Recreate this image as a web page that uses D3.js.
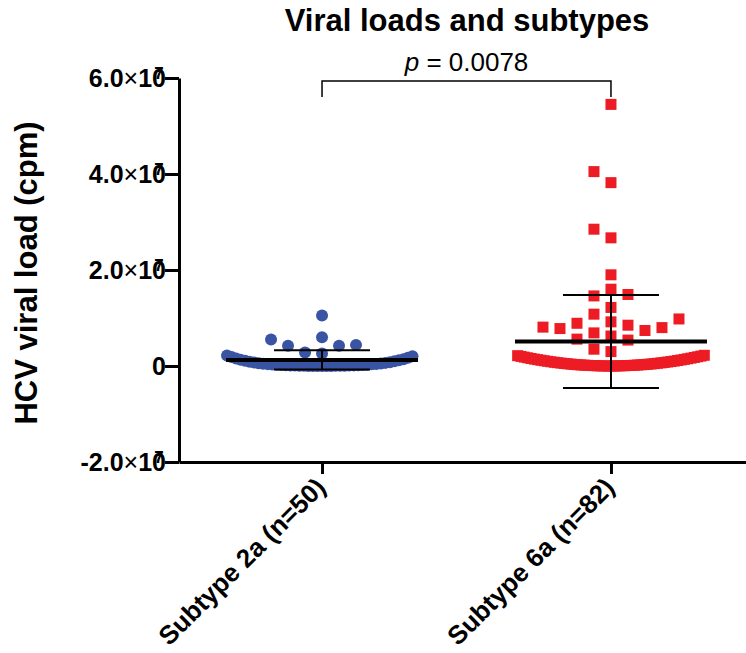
<!DOCTYPE html>
<html>
<head>
<meta charset="utf-8">
<script src="https://cdn.jsdelivr.net/npm/d3@7"></script>
<style>
  body { margin: 0; background: #fff; }
  text { font-family: "Liberation Sans", Arial, sans-serif; fill: #000; }
</style>
</head>
<body>
<div class="chart"></div>
<script>
// values in millions of cpm
var categories = ["Subtype 2a (n=50)", "Subtype 6a (n=82)"];

var subtype2a = [10.5, 6.0, 5.5, 4.4, 4.2, 4.2, 2.8, 2.6,
  0.00, 0.00, 0.01, 0.01, 0.02, 0.02, 0.03, 0.04, 0.05, 0.06, 0.07, 0.08, 0.10, 0.11,
  0.13, 0.15, 0.17, 0.19, 0.22, 0.25, 0.28, 0.31, 0.35, 0.39, 0.43, 0.48, 0.53, 0.59,
  0.65, 0.72, 0.80, 0.88, 0.97, 1.07, 1.18, 1.30, 1.43, 1.57, 1.72, 1.88, 2.04, 2.20];

var subtype6a = [54.5, 40.5, 38.2, 28.5, 26.7, 19.0, 16.0, 14.9, 14.6, 12.2, 10.8, 9.8,
  9.2, 8.9, 8.5, 8.1, 8.0, 7.8, 7.4, 6.9, 6.25, 5.6, 5.4, 3.5, 3.0,
  0.00, 0.00, 0.01, 0.01, 0.02, 0.03, 0.04, 0.05, 0.06, 0.07, 0.09, 0.10, 0.12, 0.14,
  0.16, 0.18, 0.20, 0.22, 0.25, 0.27, 0.30, 0.33, 0.36, 0.39, 0.42, 0.46, 0.49, 0.53,
  0.57, 0.61, 0.65, 0.69, 0.74, 0.78, 0.83, 0.88, 0.93, 0.98, 1.03, 1.09, 1.14, 1.20,
  1.26, 1.32, 1.38, 1.44, 1.51, 1.57, 1.64, 1.71, 1.78, 1.85, 1.92, 2.00, 2.07, 2.15, 2.23];

var yTicks = [-20, 0, 20, 40, 60];
var pLabel = "0.0078";

var width = 746,
    height = 653;

var svg = d3.select(".chart").append("svg")
    .attr("width", width)
    .attr("height", height);

var y = d3.scaleLinear().domain([-20, 60]).range([462, 78]);
var x = d3.scalePoint().domain(categories).range([179, 754]).padding(0.495);

var groups = [
  {name: categories[0], values: subtype2a, color: "#3a54a4", shape: "circle"},
  {name: categories[1], values: subtype6a, color: "#ed1c24", shape: "square"}
];

// prism-like scatter: dense rows are squeezed, the rest are swarmed
var rowH = 11.5, hitH = 14, space = 17, halfW = 95;

function swarm(values) {
  var pts = values.map(function(v){ return {v: v, y: y(v)}; })
    .sort(function(a, b){ return a.v - b.v; });
  var placed = [], i = 0;
  while (i < pts.length) {
    var j = i;
    while (j < pts.length && pts[i].y - pts[j].y < rowH) j++;
    var row = pts.slice(i, j);
    if (row.length * space > 2 * halfW) {
      var step = 2 * halfW / row.length;
      row.forEach(function(p, k){
        p.dx = (k % 2 ? -1 : 1) * Math.ceil(k / 2) * step;
        p.packed = true;
        placed.push(p);
      });
    } else {
      row.forEach(function(p){
        p.dx = findSpot(p, placed);
        placed.push(p);
      });
    }
    i = j;
  }
  return pts;
}

function findSpot(p, placed) {
  for (var m = 0; m < 300; m += 0.5) {
    var cands = m === 0 ? [0] : [-m, m];
    for (var c = 0; c < cands.length; c++) {
      var ok = placed.every(function(q){
        var h = q.packed ? rowH : hitH;
        return Math.abs(q.y - p.y) >= h || Math.abs(q.dx - cands[c]) >= space;
      });
      if (ok) return cands[c];
    }
  }
  return 0;
}

// axes
var yAxis = svg.append("g")
    .attr("transform", "translate(179,0)")
    .call(d3.axisLeft(y).tickValues(yTicks).tickSize(14).tickSizeOuter(0).tickFormat(""));
yAxis.selectAll("path, line").attr("stroke", "#000").attr("stroke-width", 3);

var xAxis = svg.append("g")
    .attr("transform", "translate(0,462)")
    .call(d3.axisBottom(x).tickSize(12).tickSizeOuter(0).tickFormat(""));
xAxis.selectAll("path, line").attr("stroke", "#000").attr("stroke-width", 3);

// y tick labels, 6.0x10^7 style
yTicks.forEach(function(t){
  var lab = svg.append("text")
      .attr("text-anchor", "end")
      .attr("font-size", 25)
      .attr("font-weight", "bold")
      .attr("x", 166)
      .attr("y", y(t) + 9);
  if (t === 0) { lab.text("0"); return; }
  lab.append("tspan").text((t / 10).toFixed(1));
  lab.append("tspan").attr("font-weight", "normal").text("\u00d7");
  lab.append("tspan").text("10");
  lab.append("tspan").attr("font-size", 17).attr("dx", -11.7).attr("dy", -8).text("7");
});

// points
groups.forEach(function(g){
  var cx = x(g.name);
  var pts = swarm(g.values);
  var sel = svg.append("g").selectAll(".pt").data(pts).enter();
  if (g.shape === "circle") {
    sel.append("circle")
      .attr("cx", function(d){ return cx + d.dx; })
      .attr("cy", function(d){ return d.y; })
      .attr("r", 6)
      .attr("fill", g.color);
  } else {
    sel.append("rect")
      .attr("x", function(d){ return cx + d.dx - 5.5; })
      .attr("y", function(d){ return d.y - 5.5; })
      .attr("width", 11)
      .attr("height", 11)
      .attr("fill", g.color);
  }

  var mean = d3.mean(g.values), sd = d3.deviation(g.values);
  var bars = svg.append("g").attr("stroke", "#000");
  bars.append("line")
      .attr("x1", cx).attr("x2", cx)
      .attr("y1", y(mean + sd)).attr("y2", y(mean - sd))
      .attr("stroke-width", 2);
  [mean + sd, mean - sd].forEach(function(v){
    bars.append("line")
      .attr("x1", cx - 48).attr("x2", cx + 48)
      .attr("y1", y(v)).attr("y2", y(v))
      .attr("stroke-width", 2);
  });
  bars.append("line")
      .attr("x1", cx - 96).attr("x2", cx + 96)
      .attr("y1", y(mean)).attr("y2", y(mean))
      .attr("stroke-width", 4);
});

// x labels
categories.forEach(function(c){
  svg.append("text")
    .attr("text-anchor", "end")
    .attr("font-size", 26)
    .attr("font-weight", "bold")
    .attr("transform", "translate(" + (x(c) + 5) + ",489) rotate(-45)")
    .text(c);
});

// significance bracket
var x0 = x(categories[0]), x1 = x(categories[1]);
svg.append("path")
    .attr("d", "M" + x0 + ",97V81H" + x1 + "V97")
    .attr("fill", "none")
    .attr("stroke", "#000")
    .attr("stroke-width", 1.5);

var pt = svg.append("text")
    .attr("text-anchor", "middle")
    .attr("font-size", 26)
    .attr("x", (x0 + x1) / 2)
    .attr("y", 71);
pt.append("tspan").attr("font-style", "italic").text("p");
pt.append("tspan").text(" = " + pLabel);

// title
svg.append("text")
    .attr("text-anchor", "middle")
    .attr("font-size", 31)
    .attr("font-weight", "bold")
    .attr("x", 467)
    .attr("y", 31)
    .text("Viral loads and subtypes");

// y label
svg.append("text")
    .attr("text-anchor", "middle")
    .attr("font-size", 31)
    .attr("font-weight", "bold")
    .attr("transform", "translate(37,273) rotate(-90)")
    .text("HCV viral load (cpm)");
</script>
</body>
</html>
